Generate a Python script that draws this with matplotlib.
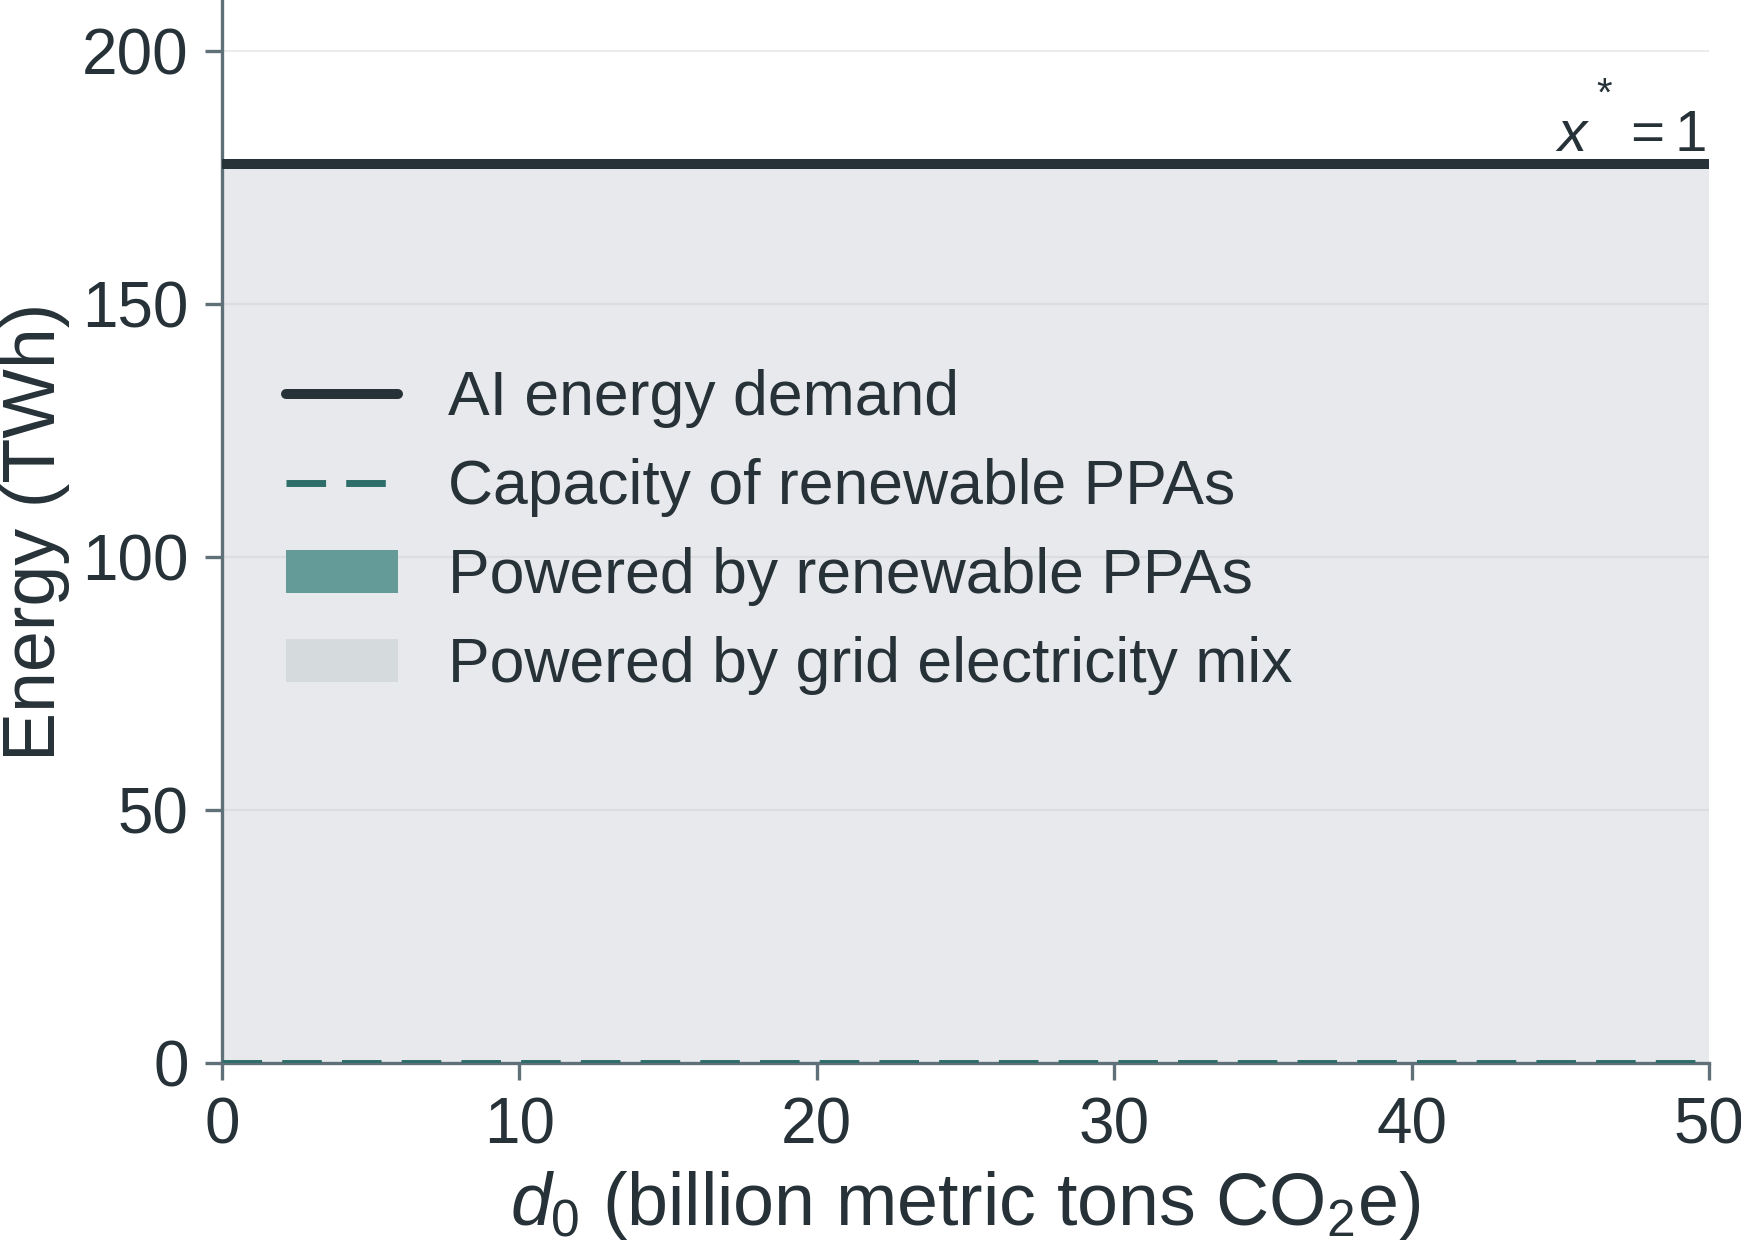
import numpy as np
import matplotlib
matplotlib.use("Agg")
import matplotlib.pyplot as plt
from matplotlib.lines import Line2D
from matplotlib.patches import Patch

# data
d0 = [0, 10, 20, 30, 40, 50]
ai_demand = [177.6, 177.6, 177.6, 177.6, 177.6, 177.6]
ppa_capacity = [0, 0, 0, 0, 0, 0]
x_ticks = [0, 10, 20, 30, 40, 50]
y_ticks = [0, 50, 100, 150, 200]

ink = "#263238"
spine_col = "#607078"

plt.rcParams["font.family"] = ["Liberation Sans", "DejaVu Sans"]
plt.rcParams["mathtext.fontset"] = "custom"
plt.rcParams["mathtext.rm"] = "Liberation Sans"
plt.rcParams["mathtext.it"] = "Liberation Sans:italic"

fig = plt.figure(figsize=(17.41, 12.47), dpi=100)
ax = fig.add_axes([222 / 1741, 184 / 1247, 1487 / 1741, 1063 / 1247])

x = np.array(d0)
demand = np.array(ai_demand)
cap = np.array(ppa_capacity)
renew = np.minimum(cap, demand)

# grid part and renewable part of the demand
ax.fill_between(x, renew, demand, color="#c1c4ce", alpha=0.37, lw=0, zorder=1)
ax.fill_between(x, 0, renew, color="#649b98", lw=0, zorder=1)

ax.plot(x, demand, color=ink, lw=7.2, solid_capstyle="butt", zorder=3)
ax.plot(x, cap, color="#2e6e6a", lw=5, dashes=(5.7, 2.9), zorder=3)

# x* = 1 label, the star sits high above the x
anchor = (x[-1] - 0.1, demand[-1] + 0.2)
ax.text(*anchor, r"$x\hspace{0.7}= 1$", ha="right", va="bottom",
        fontsize=42, color=ink)
ax.annotate("*", xy=anchor, xytext=(-73.4, 41), textcoords="offset points",
            ha="center", va="baseline", fontsize=29, color=ink)

ax.set_xlim(0, 50)
ax.set_ylim(0, 210)
ax.set_xticks(x_ticks)
ax.set_yticks(y_ticks)
ax.grid(axis="y", color="#ececec", lw=1.5, zorder=0)
ax.set_axisbelow(True)

for s in ["top", "right"]:
    ax.spines[s].set_visible(False)
for s in ["left", "bottom"]:
    ax.spines[s].set_color(spine_col)
    ax.spines[s].set_linewidth(2.4)
ax.tick_params(colors=spine_col, labelcolor=ink, labelsize=46,
               length=12, width=2.4, pad=12)

ax.set_ylabel("Energy (TWh)", fontsize=53, color=ink)
ax.yaxis.set_label_coords(-0.102, 0.5)
ax.set_xlabel(r"$d_0$ (billion metric tons CO$_2$e)", fontsize=53, color=ink)
ax.xaxis.set_label_coords(0.5, -0.1)

handles = [
    Line2D([], [], color=ink, lw=7.2, solid_capstyle="round"),
    Line2D([], [], color="#2e6e6a", lw=5, dashes=(5.7, 2.9)),
    Patch(facecolor="#649b98", edgecolor="none"),
    Patch(facecolor="#d5dadd", edgecolor="none"),
]
labels = ["AI energy demand", "Capacity of renewable PPAs",
          "Powered by renewable PPAs", "Powered by grid electricity mix"]
leg = ax.legend(handles, labels, loc="upper left", bbox_to_anchor=(0.026, 0.676),
                frameon=False, fontsize=45, handlelength=1.8, handleheight=0.7,
                handletextpad=0.8, labelspacing=0.48, borderaxespad=0)
for t in leg.get_texts():
    t.set_color(ink)

fig.savefig("out.png", dpi=100)
